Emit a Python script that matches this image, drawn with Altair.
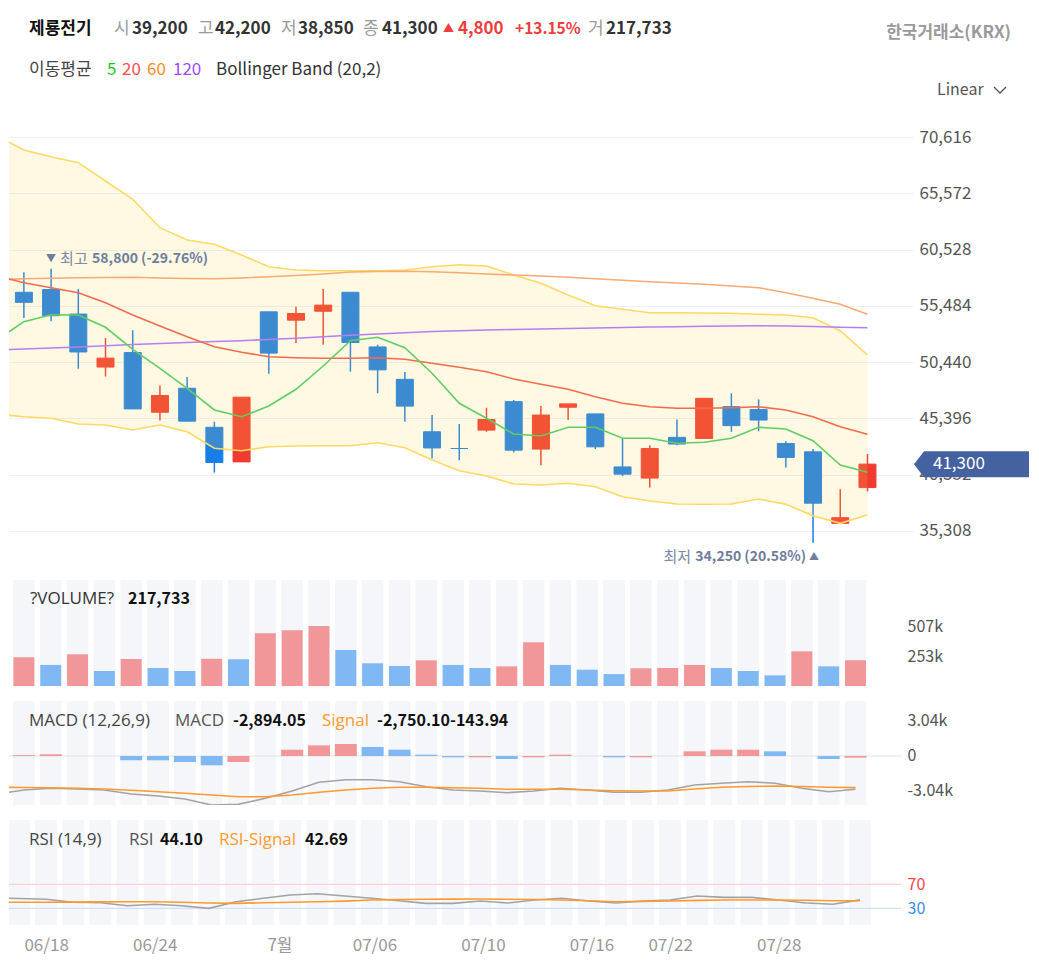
import altair as alt
import pandas as pd

FONT = "Noto Sans CJK KR"
LFONT = "Open Sans"

# ---------------- data ----------------
sessions = list(range(32))            # 32 trading sessions shown
line_sessions = list(range(-1, 32))   # one earlier session so the indicator lines reach the left edge

opens  = [56700, 56950, 54750, 50000, 51300, 45950, 48100, 44600, 41500, 54950, 54200, 55000, 56700, 51800, 48900, 44200,
          42700, 44350, 46900, 42650, 46400, 45800, 41050, 40050, 43700, 43600, 46450, 46200, 43150, 42400, 36000, 39200]
highs  = [58500, 58800, 57000, 52600, 53300, 48350, 49100, 45100, 47300, 54950, 55400, 57000, 56700, 52000, 49550, 45700,
          44900, 46350, 47050, 46500, 46700, 45800, 43600, 43000, 45300, 47200, 47650, 47100, 43350, 42650, 39050, 42200]
lows   = [54400, 54100, 49850, 49150, 46250, 45200, 45150, 40550, 41500, 49400, 52150, 52000, 49600, 47650, 45100, 41800,
          41650, 44200, 42350, 41200, 45250, 42650, 40250, 39200, 43000, 43600, 44200, 44250, 41000, 34250, 36000, 38850]
closes = [55800, 54600, 51350, 50800, 46250, 47450, 45150, 41450, 47300, 51250, 54800, 55550, 52200, 49750, 46500, 42750,
          42700, 45300, 42550, 45700, 46700, 42850, 40400, 42700, 43100, 47200, 44750, 45250, 41900, 37800, 36500, 41300]

ma5   = [52425, 54066, 54693, 54666, 53564, 51592, 49889, 48097, 46152, 45552, 46511, 48007, 50095, 52363, 52667, 51735, 49441,
         46753, 45408, 44001, 43822, 44602, 44602, 43616, 43616, 43168, 43257, 43616, 44602, 44449, 43401, 41223, 40569]
ma20  = [58161, 57561, 57113, 56664, 55768, 54666, 53680, 52721, 51825, 51323, 50929, 50839, 50785, 50785, 50839, 50696, 50337,
         49979, 49584, 48930, 48455, 48007, 47344, 46753, 46448, 46304, 46304, 46358, 46448, 46152, 45552, 44655, 43974]
ma60  = [57803, 57919, 57955, 58009, 58027, 58045, 57982, 57937, 57919, 57982, 58098, 58206, 58340, 58520, 58564, 58582, 58546,
         58457, 58340, 58251, 58161, 58045, 57919, 57785, 57650, 57534, 57417, 57265, 57113, 56664, 56163, 55625, 54729]
ma120 = [51529, 51619, 51708, 51798, 51906, 52022, 52112, 52201, 52291, 52363, 52470, 52587, 52712, 52847, 52963, 53071, 53187,
         53259, 53322, 53366, 53411, 53456, 53501, 53546, 53590, 53617, 53653, 53680, 53698, 53680, 53635, 53573, 53528]
bb_up = [70730, 69453, 68853, 68315, 66675, 65035, 62490, 61387, 61002, 60043, 58995, 58699, 58636, 58636, 58636, 58699, 58995,
         59174, 59057, 58251, 57507, 56458, 55499, 55177, 54872, 54872, 54845, 54818, 54729, 54666, 54424, 53259, 51081]
bb_lo = [45776, 45552, 45408, 44897, 44808, 44360, 44808, 44207, 42720, 42505, 42863, 42926, 42953, 42953, 43221, 42773, 41671,
         40712, 40237, 39520, 39431, 39583, 39278, 38382, 37997, 37728, 37701, 37728, 38176, 37701, 36679, 35998, 36742]

volumes = [243000, 178000, 268000, 127000, 228000, 152000, 127000, 230000, 226000, 445000, 471000, 507000, 304000, 192000,
           169000, 217000, 178000, 152000, 166000, 369000, 178000, 138000, 101000, 150000, 152000, 178000, 152000, 127000,
           90000, 293000, 166000, 217733]
volume_dir = ["up", "down", "up", "down", "up", "down", "down", "up", "down", "up", "up", "up", "down", "down", "down", "up",
              "down", "down", "up", "up", "down", "down", "down", "up", "up", "up", "down", "down", "down", "up", "down", "up"]

macd_hist = [80, 150, 0, 0, -375, -375, -520, -810, -520, 0, 550, 925, 1040, 780, 550, 115,
             -115, -115, -260, -115, 115, 0, -115, -115, 0, 405, 550, 550, 405, 0, -260, -143.94]
macd_hist_dir = ["up", "up", "up", "up", "down", "down", "down", "down", "up", "up", "up", "up", "up", "down", "down", "down",
                 "down", "up", "down", "up", "up", "up", "down", "up", "up", "up", "up", "up", "down", "down", "down", "up"]
macd_line = [-3300, -2953, -2806, -2866, -2953, -3301, -3474, -3735, -4256, -4195, -3674, -3040, -2284, -2059, -2059, -2232,
             -2667, -2953, -3040, -3188, -3040, -2806, -2953, -3153, -3153, -2953, -2519, -2371, -2232, -2371, -2806, -3101,
             -2894.05]
macd_signal = [-2719, -2736, -2753, -2806, -2866, -2979, -3101, -3240, -3388, -3535, -3535, -3388, -3153, -2953, -2806, -2719,
               -2719, -2753, -2806, -2892, -2892, -2892, -2953, -3014, -3040, -3040, -2866, -2719, -2649, -2606, -2649, -2719,
               -2750.10]

rsi_line = [47.5, 46.3, 45.0, 40.0, 39.3, 34.3, 36.7, 34.3, 30.0, 41.0, 46.7, 52.2, 54.3, 50.5, 46.7, 42.7, 38.3,
            38.3, 42.2, 38.8, 43.8, 46.7, 42.2, 38.8, 42.2, 43.8, 50.5, 48.3, 48.3, 43.8, 38.8, 36.7, 44.10]
rsi_signal = [40, 40, 40, 40.3, 40.7, 41, 41, 40.2, 38.8, 38.3, 39.3, 40.2, 41, 42, 43.8, 44.5, 45,
              45.3, 45.5, 45, 44.8, 43.8, 42.5, 41, 41.5, 42.2, 43.3, 43.8, 43.8, 43.8, 43.5, 42.7, 42.69]
rsi_levels = [70, 30]

tick_labels = ["06/18", "06/24", "7월", "07/06", "07/10", "07/16", "07/22", "07/28"]
tick_sessions = [1, 5, 9.6, 13.1, 17.1, 21.1, 24, 28]

price_ticks = [35308, 40352, 45396, 50440, 55484, 60528, 65572, 70616]
volume_ticks = [253500, 507000]
macd_ticks = [-3040, 0, 3040]

peak = {"i": [1], "v": [58800]}
peak_text = ["▼", "최고", "58,800 (-29.76%)"]
trough = {"i": [29], "v": [34250]}
trough_text = ["최저", "34,250 (20.58%)", "▲"]
last_price = {"i": [31], "v": [41300]}
last_price_text = "41,300"

# header texts
stock_name = "제룡전기"
quote_keys = ["시", "고", "저", "종"]
quote_vals = ["39,200", "42,200", "38,850", "41,300"]
change_parts = ["▲", "4,800", "+13.15%"]
vol_key, vol_val = "거", "217,733"
exchange = "한국거래소(KRX)"
ma_title = "이동평균"
ma_periods = ["5", "20", "60", "120"]
bb_title = "Bollinger Band (20,2)"
scale_mode = "Linear"
volume_title, volume_now = "?VOLUME?", "217,733"
macd_parts = ["MACD (12,26,9)", "MACD", "-2,894.05", "Signal", "-2,750.10-143.94"]
rsi_parts = ["RSI (14,9)", "RSI", "44.10", "RSI-Signal", "42.69"]

# ---------------- styles / layout ----------------
UP, DOWN = "#ef3b2f", "#177ee9"
VUP, VDOWN = "#f1979a", "#80b8f4"
W1, H1 = 904, 455
W2 = 892
HV, HM, HR = 106, 104, 105
HEAD_H = 87

xc = alt.X("i:Q", scale=alt.Scale(domain=[-0.363, 32.49], nice=False, zero=False), axis=None)
xl_scale = alt.Scale(domain=[-0.369, 32.51], nice=False, zero=False)
xl = alt.X("i:Q", scale=xl_scale, axis=None)

axis_common = dict(orient="right", domain=False, ticks=False, labelPadding=6, labelFontSize=16,
                   labelColor="#555555", labelFont=FONT, title=None)


def txt(text, x, y, color="#333333", bold=False, size=16, align="left", font=FONT):
    return alt.Chart(pd.DataFrame({"t": [text]})).mark_text(
        align=align, baseline="middle", font=font, fontSize=size,
        fontWeight="bold" if bold else "normal", color=color
    ).encode(text="t:N", x=alt.value(x), y=alt.value(y))


# ---------------- header ----------------
hdr = [txt(stock_name, 20, 21, "#111111", True, 17)]
key_x = [105, 189, 272, 354]
val_x = [123, 206, 289, 373]
for k, v, kx, vx in zip(quote_keys, quote_vals, key_x, val_x):
    hdr.append(txt(k, kx, 21, "#9a9a9a", False, 17))
    hdr.append(txt(v, vx, 21, "#333333", True, 17))
hdr.append(txt(change_parts[0], 434, 21, "#f03c3c", False, 11))
hdr.append(txt(change_parts[1], 449, 21, "#f03c3c", True, 17))
hdr.append(txt(change_parts[2], 506, 21, "#f03c3c", True, 15.5))
hdr.append(txt(vol_key, 579, 21, "#9a9a9a", False, 17))
hdr.append(txt(vol_val, 597, 21, "#333333", True, 17))
hdr.append(txt(exchange, 1002, 25, "#9a9a9a", True, 17, "right"))
hdr.append(txt(ma_title, 20, 62, "#444444", False, 17))
ma_colors = ["#1fc41f", "#ff4d4d", "#ff8c1a", "#9b4dff"]
for p, c, px in zip(ma_periods, ma_colors, [98, 113, 138, 164]):
    hdr.append(txt(p, px, 62, c, False, 17))
hdr.append(txt(bb_title, 207, 62, "#333333", False, 17))
hdr.append(txt(scale_mode, 928, 82, "#555555", False, 16))
hdr.append(alt.Chart(pd.DataFrame({"t": [0]})).mark_point(
    shape="M -1 -0.5 L 0 0.5 L 1 -0.5", filled=False, size=144, strokeWidth=1.3, color="#555555", opacity=1
).encode(x=alt.value(991), y=alt.value(82)))
header = alt.layer(*hdr).properties(width=W1, height=HEAD_H)

# ---------------- price panel ----------------
cdf = pd.DataFrame({"i": sessions, "open": opens, "high": highs, "low": lows, "close": closes})
cdf["col"] = [UP if c > o else DOWN for o, c in zip(opens, closes)]
ldf = pd.DataFrame({"i": line_sessions, "ma5": ma5, "ma20": ma20, "ma60": ma60, "ma120": ma120,
                    "bb_up": bb_up, "bb_lo": bb_lo})

ysc = alt.Scale(domain=[32261, 73036], nice=False, zero=False)
price_axis_kw = dict(axis_common)
price_axis_kw["labelFontSize"] = 17
yaxis = alt.Axis(values=price_ticks, format=",d", grid=True, gridColor="#eef0f4", gridWidth=1, **price_axis_kw)


def Yp(f):
    return alt.Y(f, scale=ysc, axis=yaxis)


wick = alt.Chart(cdf).mark_rule(strokeWidth=1.5).encode(
    x=xc, y=Yp("low:Q"), y2="high:Q", color=alt.Color("col:N", scale=None))
body = alt.Chart(cdf).mark_bar(size=17, strokeWidth=1).encode(
    x=xc, y=Yp("open:Q"), y2="close:Q",
    color=alt.Color("col:N", scale=None), stroke=alt.Stroke("col:N", scale=None))
band = alt.Chart(ldf).mark_area(color="#ffd54f", opacity=0.16, clip=True).encode(
    x=xc, y=Yp("bb_lo:Q"), y2="bb_up:Q")

price_layers = [wick, body, band]
for col, colr in [("bb_up", "#ffd966"), ("bb_lo", "#ffd966"), ("ma120", "#b67ef3"),
                  ("ma60", "#f7aa72"), ("ma20", "#f26c4c"), ("ma5", "#62cc62")]:
    price_layers.append(alt.Chart(ldf).mark_line(color=colr, strokeWidth=1.6, clip=True).encode(
        x=xc, y=Yp(f"{col}:Q")))

ANN1, ANN2 = "#7d89a6", "#6f7d9c"
pk = alt.Chart(pd.DataFrame(peak))
price_layers.append(pk.mark_text(align="center", baseline="middle", dx=0, dy=-10, font=FONT, fontSize=10,
                                 color=ANN2).encode(x=xc, y=Yp("v:Q"), text=alt.value(peak_text[0])))
price_layers.append(pk.mark_text(align="left", baseline="middle", dx=9, dy=-10, font=FONT, fontSize=15,
                                 color=ANN1).encode(x=xc, y=Yp("v:Q"), text=alt.value(peak_text[1])))
price_layers.append(pk.mark_text(align="left", baseline="middle", dx=41, dy=-10, font=FONT, fontSize=14,
                                 fontWeight="bold", color=ANN2).encode(x=xc, y=Yp("v:Q"), text=alt.value(peak_text[2])))
tr = alt.Chart(pd.DataFrame(trough))
price_layers.append(tr.mark_text(align="right", baseline="middle", dx=-122, dy=14, font=FONT, fontSize=15,
                                 color=ANN1).encode(x=xc, y=Yp("v:Q"), text=alt.value(trough_text[0])))
price_layers.append(tr.mark_text(align="right", baseline="middle", dx=-7, dy=14, font=FONT, fontSize=14,
                                 fontWeight="bold", color=ANN2).encode(x=xc, y=Yp("v:Q"), text=alt.value(trough_text[1])))
price_layers.append(tr.mark_text(align="center", baseline="middle", dx=1, dy=14, font=FONT, fontSize=10,
                                 color=ANN2).encode(x=xc, y=Yp("v:Q"), text=alt.value(trough_text[2])))
lp = alt.Chart(pd.DataFrame(last_price))
price_layers.append(lp.mark_point(
    shape="M -1 0 L -0.826 -0.226 L 1 -0.226 L 1 0.226 L -0.826 0.226 Z",
    filled=True, size=13225, color="#4562a0", opacity=1, strokeWidth=0
).encode(x=alt.value(962.5), y=Yp("v:Q")))
price_layers.append(lp.mark_text(align="left", baseline="middle", font=FONT, fontSize=17, color="white").encode(
    x=alt.value(924), y=Yp("v:Q"), text=alt.value(last_price_text)))

price = alt.layer(*price_layers).properties(width=W1, height=H1)

# ---------------- lower panels ----------------
sdf = pd.DataFrame({"i": sessions})


def stripes(h, axis=None):
    return alt.Chart(sdf).transform_calculate(a="datum.i - 0.405", b="datum.i + 0.405").mark_rect(
        color="#f5f6fa", clip=True).encode(x=alt.X("a:Q", scale=xl_scale, axis=axis), x2="b:Q",
                                           y=alt.value(0), y2=alt.value(h))


# volume
vdf = pd.DataFrame({"i": sessions, "vol": volumes})
vdf["col"] = [VUP if d == "up" else VDOWN for d in volume_dir]
vy = alt.Scale(domain=[0, 895700], nice=False, zero=False)
vaxis = alt.Axis(values=volume_ticks, labelExpr="floor(datum.value / 1000) + 'k'", grid=False, **axis_common)
vbars = alt.Chart(vdf).mark_bar(size=21, clip=True).encode(
    x=xl, y=alt.Y("vol:Q", scale=vy, axis=vaxis), y2=alt.datum(0), color=alt.Color("col:N", scale=None))
volume = alt.layer(
    stripes(HV), vbars,
    txt(volume_title, 21, 19, "#333333", False, 17, font=LFONT),
    txt(volume_now, 119, 19, "#111111", True, 16),
).properties(width=W2, height=HV)

# MACD
mdf = pd.DataFrame({"i": sessions, "hist": macd_hist})
mdf["col"] = [VUP if d == "up" else VDOWN for d in macd_hist_dir]
mldf = pd.DataFrame({"i": line_sessions, "macd": macd_line, "signal": macd_signal})
my = alt.Scale(domain=[-4256, 4777], nice=False, zero=False)
maxis = alt.Axis(values=macd_ticks, grid=False,
                 labelExpr="datum.value == 0 ? '0' : (datum.value < 0 ? '-' : '') + format(abs(datum.value) / 1000, '.2f') + 'k'",
                 **axis_common)
mzero = alt.Chart(pd.DataFrame({"z": [0]})).mark_rule(color="#e2e2e2", strokeWidth=1).encode(
    y=alt.Y("z:Q", scale=my, axis=maxis))
mbars = alt.Chart(mdf).mark_bar(size=22, clip=True).encode(
    x=xl, y=alt.Y("hist:Q", scale=my, axis=maxis), y2=alt.datum(0), color=alt.Color("col:N", scale=None))
mline = alt.Chart(mldf).mark_line(color="#a3a3a3", strokeWidth=1.6, clip=True).encode(
    x=xl, y=alt.Y("macd:Q", scale=my, axis=maxis))
msig = alt.Chart(mldf).mark_line(color="#ff9a2e", strokeWidth=1.6, clip=True).encode(
    x=xl, y=alt.Y("signal:Q", scale=my, axis=maxis))
macd = alt.layer(
    stripes(HM), mzero, mbars, mline, msig,
    txt(macd_parts[0], 20, 20, "#444444", False, 17, font=LFONT),
    txt(macd_parts[1], 166, 20, "#555555", False, 17, font=LFONT),
    txt(macd_parts[2], 224, 20, "#111111", True, 16),
    txt(macd_parts[3], 313, 20, "#ff9a2e", False, 17, font=LFONT),
    txt(macd_parts[4], 368, 20, "#111111", True, 16),
).properties(width=W2, height=HM)

# RSI
rdf = pd.DataFrame({"i": line_sessions, "rsi": rsi_line, "sig": rsi_signal})
ry = alt.Scale(domain=[2.2, 177.2], nice=False, zero=False)
raxis_kw = dict(axis_common)
raxis_kw.pop("labelColor")
raxis = alt.Axis(values=rsi_levels, grid=False,
                 labelColor={"condition": {"test": "datum.value == 70", "value": "#f04848"}, "value": "#3a8ef0"},
                 **raxis_kw)
label_expr = " : ".join(f"abs(datum.value - {p}) < 0.01 ? '{l}'" for p, l in zip(tick_sessions, tick_labels)) + " : ''"
x_axis = alt.Axis(values=tick_sessions, labelExpr=label_expr, orient="bottom", domain=False, ticks=False, grid=False,
                  labelPadding=12, labelFontSize=17, labelColor="#999999", labelFont=FONT, labelFlush=False,
                  labelOverlap=False, title=None)
xr = alt.X("i:Q", scale=xl_scale, axis=x_axis)
lvl = alt.Chart(pd.DataFrame({"lv": rsi_levels, "c": ["#fbd2d2", "#cfe1f8"]})).mark_rule(strokeWidth=1.2).encode(
    y=alt.Y("lv:Q", scale=ry, axis=raxis), color=alt.Color("c:N", scale=None))
rline = alt.Chart(rdf).mark_line(color="#a3a3a3", strokeWidth=1.6, clip=True).encode(
    x=xr, y=alt.Y("rsi:Q", scale=ry, axis=raxis))
rsig = alt.Chart(rdf).mark_line(color="#ff9a2e", strokeWidth=1.6, clip=True).encode(
    x=xr, y=alt.Y("sig:Q", scale=ry, axis=raxis))
rsi = alt.layer(
    stripes(HR, x_axis), lvl, rline, rsig,
    txt(rsi_parts[0], 20, 20, "#444444", False, 17, font=LFONT),
    txt(rsi_parts[1], 120, 20, "#555555", False, 17, font=LFONT),
    txt(rsi_parts[2], 151, 20, "#111111", True, 16),
    txt(rsi_parts[3], 210, 20, "#ff9a2e", False, 17, font=LFONT),
    txt(rsi_parts[4], 296, 20, "#111111", True, 16),
).properties(width=W2, height=HR)

chart = alt.vconcat(header, price, volume, macd, rsi, spacing=15, bounds="flush").properties(
    padding={"left": 0, "top": 0, "right": 0, "bottom": 14}, background="white"
).configure_view(stroke=None)

chart.save("out.html", embed_options={"renderer": "svg", "actions": False})
